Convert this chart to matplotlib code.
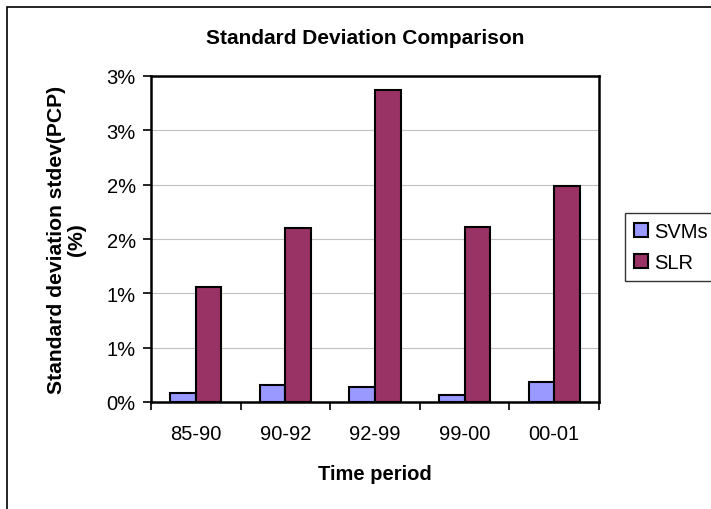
import matplotlib
matplotlib.use("Agg")
import matplotlib.pyplot as plt
from matplotlib.patches import Rectangle
from matplotlib.ticker import FuncFormatter, FixedLocator
import numpy as np

plt.rcParams['font.family'] = ['Liberation Sans', 'DejaVu Sans']

periods = ["85-90", "90-92", "92-99", "99-00", "00-01"]
svms = [0.083, 0.156, 0.138, 0.067, 0.18]
slr = [1.058, 1.60, 2.87, 1.61, 1.99]

fig = plt.figure(figsize=(7.11, 5.10), dpi=100)
# outer chart border (clipped at right/bottom like the reference)
fig.patches.append(Rectangle((7 / 711, -0.1), 1.2, 1.1 - 8 / 510, transform=fig.transFigure,
                             fill=False, edgecolor='black', linewidth=1.2))

ax = fig.add_axes([151 / 711, 107 / 510, 448 / 711, 326 / 510])

x = np.arange(len(periods))
w = 1 / 3.5
ax.bar(x - w / 2, svms, w, color='#9999FF', edgecolor='black', linewidth=1.5, label='SVMs', zorder=3)
ax.bar(x + w / 2, slr, w, color='#993366', edgecolor='black', linewidth=1.5, label='SLR', zorder=3)

ax.set_xlim(-0.5, len(periods) - 0.5)
ax.set_ylim(0, 3.0)
ax.set_yticks(np.arange(0, 3.01, 0.5))
ax.yaxis.set_major_formatter(FuncFormatter(lambda v, p: f"{int(v + 0.5 + 1e-9)}%"))
ax.grid(axis='y', color='#c0c0c0', linewidth=0.8, zorder=0)

ax.set_xticks(x)
ax.set_xticklabels(periods)
ax.xaxis.set_minor_locator(FixedLocator(np.arange(-0.5, len(periods), 1.0)))
ax.tick_params(axis='x', which='major', length=0, pad=16, labelsize=14.5)
ax.tick_params(axis='x', which='minor', length=6, width=1.2, direction='out')
ax.tick_params(axis='y', length=6, width=1.2, direction='out', labelsize=14.5, pad=5)

for s in ax.spines.values():
    s.set_linewidth(1.8)
    s.set_color('black')

ax.set_title("Standard Deviation Comparison", fontsize=15, fontweight='bold', pad=24, x=0.478)
ax.set_xlabel("Time period", fontsize=14.5, fontweight='bold', labelpad=15)
ax.set_ylabel("Standard deviation stdev(PCP)\n(%)", fontsize=15.2, fontweight='bold',
              labelpad=15, linespacing=1.05)

leg = fig.legend(loc='upper left', bbox_to_anchor=(625 / 711, 1 - 214 / 510), fontsize=14.5,
                 frameon=True, fancybox=False, edgecolor='black', handlelength=0.7, handleheight=0.7,
                 handletextpad=0.3, borderpad=0.45, labelspacing=0.6, borderaxespad=0)
leg.get_frame().set_linewidth(1.0)

fig.savefig("out.png", dpi=100)
